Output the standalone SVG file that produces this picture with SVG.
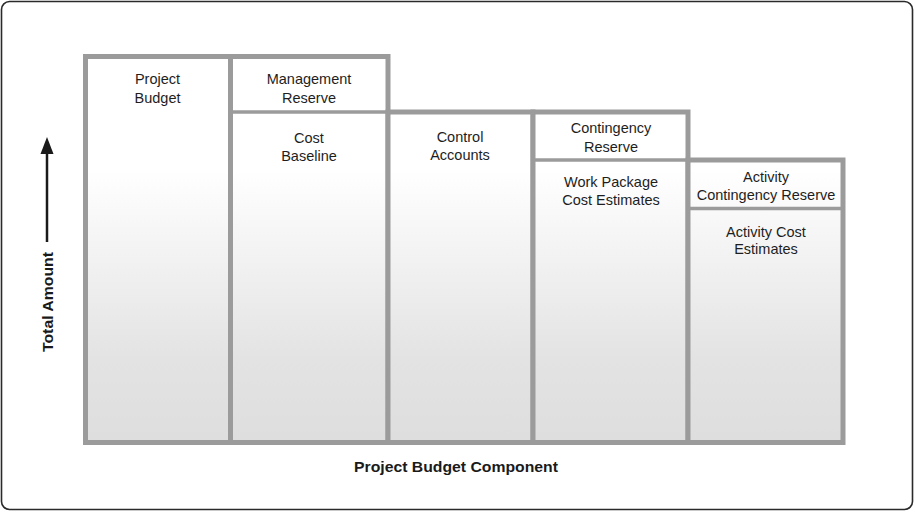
<svg xmlns="http://www.w3.org/2000/svg" width="915" height="512" viewBox="0 0 915 512">
<defs>
<linearGradient id="g" gradientUnits="userSpaceOnUse" x1="0" y1="170" x2="0" y2="440">
<stop offset="0" stop-color="#ffffff"/>
<stop offset="0.7" stop-color="#e3e3e3"/>
<stop offset="1" stop-color="#dedede"/>
</linearGradient>
<style>
.col{fill:url(#g);stroke:#9b9b9b;stroke-width:5}
.div{stroke:#9b9b9b;stroke-width:3.5;fill:none}
.t{font-family:"Liberation Sans",Arial,sans-serif;font-size:14.5px;fill:#1e1e1e;text-anchor:middle}
.b{font-family:"Liberation Sans",Arial,sans-serif;font-size:15.5px;font-weight:bold;fill:#1a1a1a;text-anchor:middle}
</style>
</defs>
<rect x="1.5" y="1.5" width="911" height="508" rx="8" fill="#fff" stroke="#2a2a2a" stroke-width="1.6"/>
<g id="project-budget">
<rect class="col" x="85.5" y="56.5" width="145" height="386"/>
<text class="t" x="157.5" y="84">Project</text>
<text class="t" x="157.5" y="103">Budget</text>
</g>
<g id="cost-baseline">
<rect class="col" x="230.5" y="56.5" width="157.5" height="386"/>
<line class="div" x1="230.5" y1="112" x2="388" y2="112"/>
<text class="t" x="309" y="84">Management</text>
<text class="t" x="309" y="103">Reserve</text>
<text class="t" x="309" y="143">Cost</text>
<text class="t" x="309" y="161">Baseline</text>
</g>
<g id="control-accounts">
<rect class="col" x="388" y="112" width="145" height="330.5"/>
<text class="t" x="460" y="142">Control</text>
<text class="t" x="460" y="160">Accounts</text>
</g>
<g id="work-package">
<rect class="col" x="533" y="112" width="155" height="330.5"/>
<line class="div" x1="533" y1="160" x2="688" y2="160"/>
<text class="t" x="611" y="133">Contingency</text>
<text class="t" x="611" y="152">Reserve</text>
<text class="t" x="611" y="187">Work Package</text>
<text class="t" x="611" y="205">Cost Estimates</text>
</g>
<g id="activity">
<rect class="col" x="688" y="160" width="155" height="282.5"/>
<line class="div" x1="688" y1="208.5" x2="843" y2="208.5"/>
<text class="t" x="766" y="182">Activity</text>
<text class="t" x="766" y="200">Contingency Reserve</text>
<text class="t" x="766" y="237">Activity Cost</text>
<text class="t" x="766" y="254">Estimates</text>
</g>
<g id="connectors">
<line x1="47" y1="242" x2="47" y2="150" stroke="#1a1a1a" stroke-width="2.5"/>
<polygon points="47,137 40.5,154 53.5,154" fill="#1a1a1a"/>
</g>
<g id="axis-labels">
<text class="b" transform="translate(52.5,302) rotate(-90)" x="0" y="0" textLength="100" lengthAdjust="spacingAndGlyphs">Total Amount</text>
<text class="b" x="456" y="472" textLength="204" lengthAdjust="spacingAndGlyphs">Project Budget Component</text>
</g>
</svg>
